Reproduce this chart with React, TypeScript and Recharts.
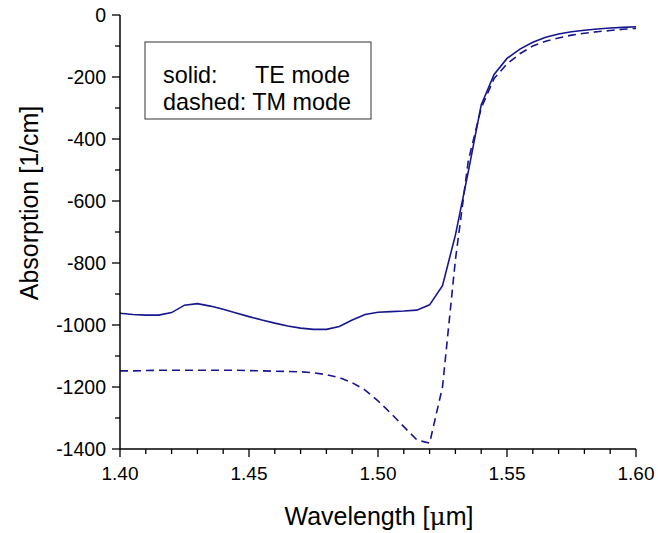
import React from 'react';
import { LineChart, Line, XAxis, YAxis, Label } from 'recharts';

// ---- data ----
const teWavelength = [
  1.4, 1.405, 1.41, 1.415, 1.42, 1.425, 1.43, 1.435, 1.44, 1.445, 1.45, 1.455, 1.46, 1.465, 1.47,
  1.475, 1.48, 1.485, 1.49, 1.495, 1.5, 1.505, 1.51, 1.515, 1.52, 1.525, 1.53, 1.535, 1.54, 1.545,
  1.55, 1.555, 1.56, 1.565, 1.57, 1.575, 1.58, 1.585, 1.59, 1.595, 1.6,
];
const teAbsorption = [
  -962, -966, -968, -968, -960, -936, -931, -939, -949, -961, -973, -984, -994, -1003, -1010,
  -1014, -1014, -1005, -984, -966, -959, -957, -955, -952, -935, -873, -710, -505, -290, -192,
  -140, -110, -88, -72, -61, -54, -49, -45, -42, -40, -38,
];
const tmWavelength = [
  1.4, 1.405, 1.41, 1.415, 1.42, 1.425, 1.43, 1.435, 1.44, 1.445, 1.45, 1.455, 1.46, 1.465, 1.47,
  1.475, 1.48, 1.485, 1.49, 1.495, 1.5, 1.505, 1.51, 1.515, 1.518, 1.52, 1.525, 1.53, 1.535, 1.54,
  1.545, 1.55, 1.555, 1.56, 1.565, 1.57, 1.575, 1.58, 1.585, 1.59, 1.595, 1.6,
];
const tmAbsorption = [
  -1148, -1148, -1147, -1146, -1146, -1146, -1146, -1146, -1146, -1146, -1147, -1148, -1149, -1150, -1151,
  -1154, -1160, -1170, -1186, -1210, -1245, -1285, -1328, -1370, -1377, -1381, -1200, -790, -470, -300,
  -205, -158, -125, -100, -85, -74, -65, -59, -54, -50, -46, -43,
];
const xTicks = [
  1.4, 1.41, 1.42, 1.43, 1.44, 1.45, 1.46, 1.47, 1.48, 1.49, 1.5, 1.51, 1.52, 1.53, 1.54, 1.55,
  1.56, 1.57, 1.58, 1.59, 1.6,
];
const yTicks = [
  -1400, -1300, -1200, -1100, -1000, -900, -800, -700, -600, -500, -400, -300, -200, -100, 0,
];
const xLabel = 'Wavelength [';
const yLabel = 'Absorption [1/cm]';
const legendLines = ['solid:', 'TE mode', 'dashed: TM mode'];

const teData = teWavelength.map((x, i) => ({ x, y: teAbsorption[i] }));
const tmData = tmWavelength.map((x, i) => ({ x, y: tmAbsorption[i] }));

const FONT = '"Liberation Sans", Arial, sans-serif';
const COLOR = '#16168f';

const isMajorX = (v: number) => Math.round(v * 100) % 5 === 0;
const isMajorY = (v: number) => Math.round(v) % 200 === 0;

const BottomTick = (props: any) => {
  const { x, y, payload } = props;
  const v = payload.value as number;
  const major = isMajorX(v);
  return (
    <g>
      <line x1={x} x2={x} y1={y} y2={y + (major ? 8 : 5)} stroke="#000" strokeWidth={1.3} />
      {major && (
        <text x={x} y={y + 31} textAnchor="middle" fontSize={19} fontFamily={FONT} fill="#000">
          {v.toFixed(2)}
        </text>
      )}
    </g>
  );
};

const TopTick = (props: any) => {
  const { x, y, payload } = props;
  const v = payload.value as number;
  const major = isMajorX(v);
  return <line x1={x} x2={x} y1={y} y2={y - (major ? 8 : 4)} stroke="#000" strokeWidth={1.3} />;
};

const LeftTick = (props: any) => {
  const { x, y, payload } = props;
  const v = payload.value as number;
  const major = isMajorY(v);
  return (
    <g>
      <line x1={x - (major ? 8 : 5)} x2={x} y1={y} y2={y} stroke="#000" strokeWidth={1.3} />
      {major && (
        <text x={x - 14} y={y + 7} textAnchor="end" fontSize={19.5} fontFamily={FONT} fill="#000">
          {String(v)}
        </text>
      )}
    </g>
  );
};

export default function App() {
  return (
    <div style={{ position: 'absolute', left: 0, top: 0, background: '#fff' }}>
      <LineChart width={658} height={533} margin={{ top: 15, right: 22, bottom: 44, left: 20 }}>
        <XAxis
          xAxisId="b"
          type="number"
          dataKey="x"
          domain={[1.4, 1.6]}
          ticks={xTicks}
          interval={0}
          tickSize={0}
          tickMargin={0}
          tickLine={false}
          tick={<BottomTick />}
          height={40}
          axisLine={{ stroke: '#000', strokeWidth: 1.5 }}
          allowDataOverflow
        >
          <Label
            content={(p: any) => {
              const vb = p.viewBox || { x: 120, y: 449, width: 516 };
              return (
                <text
                  x={vb.x + vb.width / 2 + 1}
                  y={vb.y + 76}
                  textAnchor="middle"
                  fontSize={25}
                  fontFamily={FONT}
                  fill="#000"
                >
                  {xLabel}
                  <tspan fontFamily='"DejaVu Serif", serif' fontStyle="normal">μ</tspan>
                  m]
                </text>
              );
            }}
          />
        </XAxis>
        <XAxis
          xAxisId="t"
          orientation="top"
          type="number"
          dataKey="x"
          domain={[1.4, 1.6]}
          ticks={xTicks}
          interval={0}
          tickSize={0}
          tickMargin={0}
          tickLine={false}
          tick={<TopTick />}
          height={0}
          axisLine={{ stroke: '#000', strokeWidth: 1.5 }}
          allowDataOverflow
        />
        <YAxis
          yAxisId="l"
          type="number"
          domain={[-1400, 0]}
          ticks={yTicks}
          interval={0}
          tickSize={0}
          tickMargin={0}
          tickLine={false}
          tick={<LeftTick />}
          width={100}
          axisLine={{ stroke: '#000', strokeWidth: 1.5 }}
          allowDataOverflow
        >
          <Label
            content={() => (
              <g>
                <text
                  x={38}
                  y={203}
                  transform="rotate(-90, 38, 203)"
                  textAnchor="middle"
                  fontSize={25}
                  fontFamily={FONT}
                  fill="#000"
                >
                  {yLabel}
                </text>
                <rect x={145} y={42} width={226} height={77} fill="#fff" stroke="#333" strokeWidth={1} />
                <text x={163} y={83} fontSize={23.4} fontFamily={FONT} fill="#000">
                  {legendLines[0]}
                </text>
                <text x={255} y={83} fontSize={23.4} fontFamily={FONT} fill="#000">
                  {legendLines[1]}
                </text>
                <text x={163} y={110} fontSize={23.4} fontFamily={FONT} fill="#000">
                  {legendLines[2]}
                </text>
              </g>
            )}
          />
        </YAxis>
        <YAxis
          yAxisId="r"
          orientation="right"
          type="number"
          domain={[-1400, 0]}
          width={0}
          tick={false}
          tickLine={false}
          axisLine={{ stroke: '#000', strokeWidth: 1.5 }}
          allowDataOverflow
        />
        <Line
          xAxisId="b"
          yAxisId="l"
          data={teData}
          dataKey="y"
          type="linear"
          stroke={COLOR}
          strokeWidth={1.6}
          dot={false}
          isAnimationActive={false}
        />
        <Line
          xAxisId="b"
          yAxisId="l"
          data={tmData}
          dataKey="y"
          type="linear"
          stroke={COLOR}
          strokeWidth={1.6}
          strokeDasharray="8 5"
          dot={false}
          isAnimationActive={false}
        />
      </LineChart>
    </div>
  );
}
